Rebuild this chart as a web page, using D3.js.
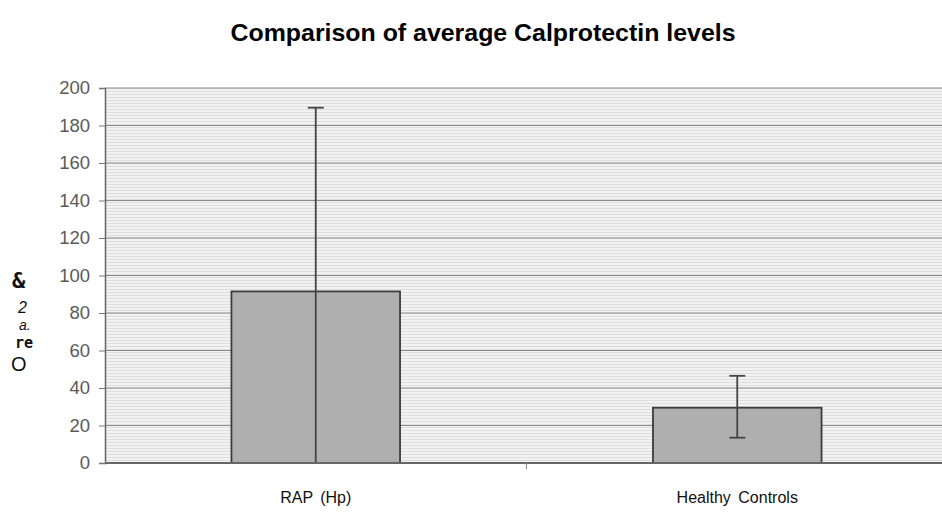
<!DOCTYPE html>
<html><head><meta charset="utf-8">
<script src="https://cdn.jsdelivr.net/npm/d3@7"></script>
<style>body{margin:0;background:#fff}svg{display:block}</style>
</head><body>
<svg id="c" width="942" height="513"></svg>
<script>
const categories = ["RAP (Hp)", "Healthy Controls"];
const means = [91.5, 29.5];
const errUpper = [189.5, 46.5];
const errLower = [0, 13.5];
const yTicks = [0, 20, 40, 60, 80, 100, 120, 140, 160, 180, 200];
const title = "Comparison of average Calprotectin levels";
const yLabelPieces = ["&", "2", "a.", "re", "O"];

const svg = d3.select("#c");
const W = 942;
const x0 = 105, x1 = W + 6;
const y0 = 463, y1 = 88;

const defs = svg.append("defs");
const pat = defs.append("pattern").attr("id","hatch").attr("patternUnits","userSpaceOnUse")
  .attr("width",6).attr("height",3);
pat.append("rect").attr("width",6).attr("height",3).attr("fill","#f2f2f2");
pat.append("rect").attr("y",1).attr("width",6).attr("height",1).attr("fill","#dedede");

const x = d3.scaleBand().domain(categories).range([x0, x1]).paddingInner(0).paddingOuter(0);
const y = d3.scaleLinear().domain([0, 200]).range([y0, y1]);

svg.append("rect").attr("x", x0).attr("y", y1).attr("width", x1 - x0).attr("height", y0 - y1)
  .attr("fill", "url(#hatch)");

svg.append("g").selectAll("line").data(yTicks.filter(d => d > 0)).join("line")
  .attr("x1", x0).attr("x2", x1).attr("y1", d => y(d)).attr("y2", d => y(d))
  .attr("stroke", "#8a8a8a").attr("stroke-width", 1.2);

const ya = svg.append("g").attr("transform", `translate(${x0},0)`)
  .call(d3.axisLeft(y).tickValues(yTicks).tickSize(6).tickPadding(9));
ya.select(".domain").attr("stroke", "#666").attr("stroke-width", 1.5);
ya.selectAll(".tick line").attr("stroke", "#777");
ya.selectAll(".tick text").attr("font-family", "Liberation Sans, Arial, sans-serif")
  .attr("font-size", 18.5).attr("fill", "#5a5a5a");

const bw = x.bandwidth() / 2.5;
svg.append("g").selectAll("rect").data(categories).join("rect")
  .attr("x", d => x(d) + x.bandwidth() / 2 - bw / 2)
  .attr("y", (d, i) => y(means[i]))
  .attr("width", bw)
  .attr("height", (d, i) => y(0) - y(means[i]))
  .attr("fill", "#afafaf").attr("stroke", "#3c3c3c").attr("stroke-width", 1.8);

const eg = svg.append("g").attr("stroke", "#444").attr("stroke-width", 1.8);
categories.forEach((c, i) => {
  const cx = x(c) + x.bandwidth() / 2;
  eg.append("line").attr("x1", cx).attr("x2", cx).attr("y1", y(errUpper[i])).attr("y2", y(errLower[i]));
  eg.append("line").attr("x1", cx - 8).attr("x2", cx + 8).attr("y1", y(errUpper[i])).attr("y2", y(errUpper[i]));
  if (errLower[i] > 0)
    eg.append("line").attr("x1", cx - 8).attr("x2", cx + 8).attr("y1", y(errLower[i])).attr("y2", y(errLower[i]));
});

svg.append("line").attr("x1", x0).attr("x2", x1).attr("y1", y0).attr("y2", y0)
  .attr("stroke", "#666").attr("stroke-width", 2);
svg.append("g").selectAll("line").data(categories.slice(1)).join("line")
  .attr("x1", d => x(d)).attr("x2", d => x(d)).attr("y1", y0).attr("y2", y0 + 6)
  .attr("stroke", "#888");
svg.append("g").selectAll("text").data(categories).join("text")
  .attr("x", d => x(d) + x.bandwidth() / 2).attr("y", 503)
  .attr("text-anchor", "middle").attr("font-family", "Liberation Sans, Arial, sans-serif")
  .attr("font-size", 16).attr("fill", "#111").attr("word-spacing", 3).text(d => d);

svg.append("text").attr("x", 483).attr("y", 41).attr("text-anchor", "middle")
  .attr("font-family", "Liberation Sans, Arial, sans-serif").attr("font-weight", "bold")
  .attr("font-size", 24).attr("textLength", 505).attr("lengthAdjust", "spacingAndGlyphs")
  .attr("fill", "#000").text(title);

const yl = svg.append("g").attr("fill", "#111");
const pos = [
  {x: 12, y: 288, f: "DejaVu Sans Mono", s: 22, w: "bold"},
  {x: 18, y: 313, f: "Liberation Sans", s: 16, w: "normal", it: true},
  {x: 19, y: 330, f: "Liberation Sans", s: 14, w: "normal", it: true},
  {x: 15, y: 348, f: "DejaVu Sans Mono", s: 15, w: "bold"},
  {x: 11, y: 371, f: "Liberation Sans", s: 20, w: "normal"}
];
pos.forEach((p, i) => {
  yl.append("text").attr("x", p.x).attr("y", p.y).attr("font-family", p.f)
    .attr("font-size", p.s).attr("font-weight", p.w)
    .attr("font-style", p.it ? "italic" : "normal").text(yLabelPieces[i]);
});
</script>
</body></html>
